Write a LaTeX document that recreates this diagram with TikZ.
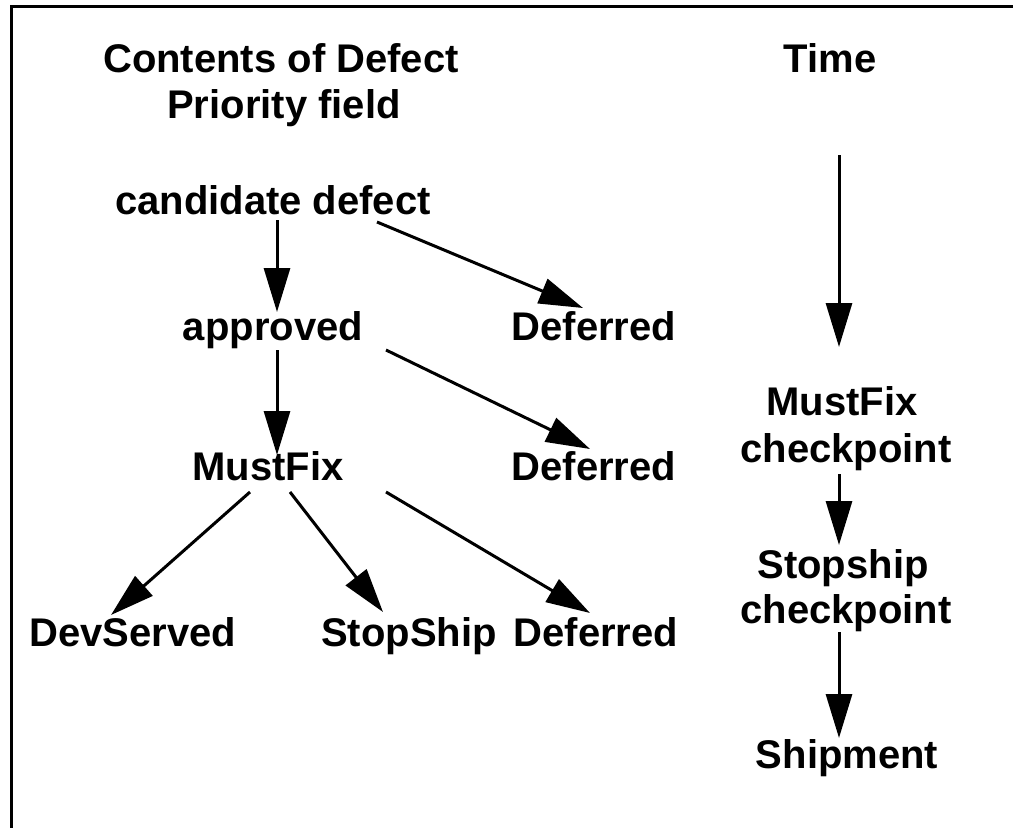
\documentclass[tikz,border=0pt]{standalone}
\usepackage{fontspec}
\setmainfont{Liberation Sans}
\usetikzlibrary{arrows.meta}
\tikzset{
  lbl/.style={anchor=base, inner sep=0pt, font=\fontsize{40}{46}\selectfont\bfseries},
  arr/.style={line width=3pt, -{Triangle[length=44pt,width=26pt]}},
  frame/.style={line width=3pt}
}
\begin{document}
\begin{tikzpicture}[x=1pt,y=-1pt]
\useasboundingbox (0,0) rectangle (1013,828);
\draw[frame] (1013,6) -- (11,6) -- (11,828);
% headings
\node[lbl] (h1) at (281,72) {Contents of Defect};
\node[lbl] (h2) at (284,118) {Priority field};
\node[lbl] (time) at (830,72) {Time};
% left tree
\node[lbl] (cand) at (273,214) {candidate defect};
\node[lbl] (appr) at (273,340) {approved};
\node[lbl] (def1) at (594,340) {Deferred};
\node[lbl] (must) at (268,480) {MustFix};
\node[lbl] (def2) at (594,480) {Deferred};
\node[lbl] (dev) at (133,646) {DevServed};
\node[lbl] (stop) at (409,646) {StopShip};
\node[lbl] (def3) at (596,646) {Deferred};
% right column
\node[lbl] (rmust) at (842,415) {MustFix};
\node[lbl] (rchk1) at (846,462) {checkpoint};
\node[lbl] (rstop) at (843,578) {Stopship};
\node[lbl] (rchk2) at (846,623) {checkpoint};
\node[lbl] (ship) at (847,768) {Shipment};
% arrows
\draw[arr] ([shift={(4,6)}]cand.base) -- ([shift={(4,-28)}]appr.base);
\draw[arr] ([shift={(104,8)}]cand.base) -- ([shift={(-11,-32)}]def1.base);
\draw[arr] ([shift={(4,10)}]appr.base) -- ([shift={(9,-25)}]must.base);
\draw[arr] ([shift={(113,10)}]appr.base) -- ([shift={(-4,-31)}]def2.base);
\draw[arr] ([shift={(-18,12)}]must.base) -- ([shift={(-22,-31)}]dev.base);
\draw[arr] ([shift={(22,12)}]must.base) -- ([shift={(-26,-34)}]stop.base);
\draw[arr] ([shift={(118,12)}]must.base) -- ([shift={(-6,-33)}]def3.base);
\draw[arr] ([shift={(9,83)}]time.base) -- ([shift={(-3,-68)}]rmust.base);
\draw[arr] ([shift={(-7,12)}]rchk1.base) -- ([shift={(-4,-33)}]rstop.base);
\draw[arr] ([shift={(-7,9)}]rchk2.base) -- ([shift={(-8,-30)}]ship.base);
\end{tikzpicture}
\end{document}
